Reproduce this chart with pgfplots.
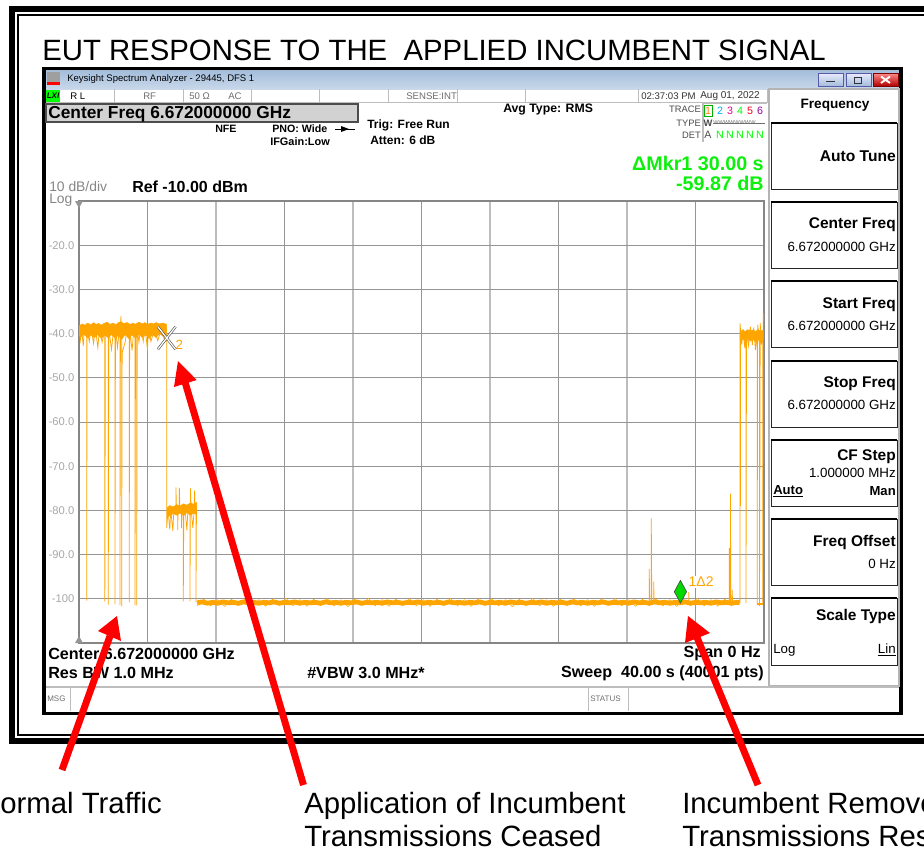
\documentclass[border=0pt]{standalone}
\usepackage{fontspec}
\setmainfont{Liberation Sans}
\usepackage{pgfplots}
\pgfplotsset{compat=1.18}
\definecolor{trace}{HTML}{FFA500}
\definecolor{gridd}{HTML}{959595}
\definecolor{gridl}{HTML}{BDBDBD}
\definecolor{mkgreen}{HTML}{0CF00C}
\definecolor{lab}{HTML}{A8A8A8}
\definecolor{dim}{HTML}{6E6E6E}
\definecolor{panel}{HTML}{B4B4B4}
\definecolor{bartop}{HTML}{A3BDDB}
\definecolor{barbot}{HTML}{C9D8EA}
\tikzset{
  px/.style={x=0.75pt,y=-0.75pt},
  L/.style={anchor=west},
  R/.style={anchor=east},
  C/.style={anchor=center},
  s/.style={font=\fontsize{#1}{#1}\selectfont},
  b/.style={font=\bfseries\fontsize{#1}{#1}\selectfont},
}
% text node at reference pixel position
\newcommand\T[4][]{\node[inner sep=0pt,#1] at (#2,#3) {#4};}
\newcommand\softkey[2]{\draw[black!85,line width=0.7pt] (771,#1) rectangle (897,#2);
  \draw[black,line width=1.1pt] (771,#1) -- (897,#1);}

\begin{document}
\begin{tikzpicture}
\begin{scope}[px]
\path[use as bounding box] (0,0) rectangle (924,851);
\end{scope}
\begin{scope}[px]
\clip (0,0) rectangle (924,851);

% document frame
\draw[black,line width=4.5pt] (12,9) rectangle (940,741);
\draw[black,line width=0.9pt] (18,15) rectangle (940,735);

\T[L,s=22]{42}{50}{EUT RESPONSE TO THE\ \ APPLIED INCUMBENT SIGNAL}

% analyser window
\fill[white] (44,68) rectangle (901,713);
\shade[top color=bartop,bottom color=barbot] (46,70) rectangle (899,89);
\draw[black,line width=2.6pt] (44,68.5) rectangle (901,713.5);
\fill[gray!75] (47,72) rectangle (60,84);
\fill[red] (47,82) rectangle (60,85);
\T[L,s=7.15]{67}{79}{Keysight Spectrum Analyzer - 29445, DFS 1}
\shade[draw=gray!70!blue,top color=blue!8!white,bottom color=bartop] (818,73) rectangle (843,86);
\shade[draw=gray!70!blue,top color=blue!8!white,bottom color=bartop] (846,73) rectangle (871,86);
\shade[draw=red!50!black,top color=red!45!white,bottom color=red!70!black] (873,73) rectangle (898,86);
\draw[gray!40!black,line width=0.8pt] (826,81.5) -- (835,81.5);
\draw[gray!40!black,line width=0.5pt] (854,77) rectangle (861,83);
\draw[white,line width=1.4pt] (881,76.5) -- (890,83) (881,83) -- (890,76.5);

% status row
\draw[gridl,line width=0.7pt] (46,102) -- (768,102);
\foreach \xx in {114,183,251,319,388,457,525,638,767} {\draw[gridl,line width=0.6pt] (\xx,89) -- (\xx,102);}
\fill[green] (46,90) rectangle (60,102);
\T[C,font=\bfseries\itshape\fontsize{6}{7}\selectfont]{53}{96}{LXI}
\T[L,s=7.2]{70}{96}{R L}
\T[L,s=7.2,text=dim]{143}{96}{RF}
\T[L,s=7.2,text=dim]{189}{96}{50 Ω}
\T[L,s=7.2,text=dim]{228}{96}{AC}
\T[L,s=7.2,text=dim]{406}{96}{SENSE:INT}
\T[L,s=7.2,text=black!80]{641}{96}{02:37:03 PM}
\T[L,s=7.5,text=black!80]{700}{96}{Aug 01, 2022}

% centre frequency box and settings
\draw[black!70,fill=gray!35,line width=0.8pt] (46,104) rectangle (358,122);
\T[L,b=13]{48}{114}{Center Freq 6.672000000 GHz}
\T[L,b=8]{215}{129}{NFE}
\T[L,b=8]{272}{129}{PNO: Wide}
\T[L,b=8.2]{270}{142}{IFGain:Low}
\draw[black,line width=0.5pt] (335,129) -- (355,129);
\fill[black] (341,126) -- (349,129) -- (341,132) -- cycle;
\T[L,b=9]{367}{125}{Trig: Free Run}
\T[L,b=9]{370}{140}{Atten: 6 dB}
\T[L,b=9.2]{503}{110}{Avg Type: RMS}

% trace table
\T[R,s=7,text=black!70]{701}{109}{TRACE}
\T[R,s=7,text=black!70]{701}{123}{TYPE}
\T[R,s=7,text=black!70]{701}{135}{DET}
\draw[gridl,line width=1pt] (703,103) -- (767,103) (703,103) -- (703,142);
\draw[green!70!black,line width=0.5pt] (704,105) rectangle (712,116);
\T[C,s=8,text=orange]{708}{111}{1}
\T[C,s=8,text=cyan]{720}{111}{2}
\T[C,s=8,text=magenta]{730}{111}{3}
\T[C,s=8,text=green]{740}{111}{4}
\T[C,s=8,text=red!90!magenta]{750}{111}{5}
\T[C,s=8,text=violet!80!magenta]{760}{111}{6}
\T[C,b=7,text=black!70]{708}{123}{W}
\T[L,s=4.2,text=dim]{713}{123}{WWWWWWWW}
\draw[dim,line width=0.3pt] (713,123) -- (765,123);
\T[C,s=8,text=black!70]{708}{135}{A}
\foreach \xx in {720,730,740,750,760} {\T[C,s=8,text=green]{\xx}{135}{N}}

% marker readout and reference
\T[R,b=14.8]{764}{163}{\textcolor{mkgreen}{ΔMkr1 30.00 s}}
\T[R,b=14.8]{764}{183}{\textcolor{mkgreen}{-59.87 dB}}
\T[L,s=10.4,text=lab!80!black]{49}{187}{10 dB/div}
\T[L,s=10.4,text=lab!80!black]{49}{200}{Log}
\T[L,b=12]{132}{187}{Ref -10.00 dBm}

% soft keys
\draw[panel,line width=1pt] (769,89) rectangle (899,686);
\T[C,b=10.2]{835}{105}{Frequency}
\softkey{123}{189}
\T[R,b=11.7]{896}{156}{Auto Tune}
\softkey{202}{268}
\T[R,b=11.6]{896}{225}{Center Freq}
\T[R,s=10]{896}{247}{6.672000000 GHz}
\softkey{281}{347}
\T[R,b=11.6]{896}{305}{Start Freq}
\T[R,s=10]{896}{326}{6.672000000 GHz}
\softkey{361}{427}
\T[R,b=11.6]{896}{384}{Stop Freq}
\T[R,s=10]{896}{405}{6.672000000 GHz}
\softkey{440}{506}
\T[R,b=11.6]{896}{457}{CF Step}
\T[R,s=10]{896}{473}{1.000000 MHz}
\T[L,b=9.8]{773}{491}{\underline{Auto}}
\T[R,b=9.8]{896}{491}{Man}
\softkey{519}{585}
\T[R,b=11.6]{896}{542}{Freq Offset}
\T[R,s=10]{896}{564}{0 Hz}
\softkey{598}{665}
\T[R,b=11.6]{896}{616}{Scale Type}
\T[L,s=10]{773}{650}{Log}
\T[R,s=10]{896}{650}{\underline{Lin}}

% bottom annotations of the analyser
\T[L,b=12.1]{48}{654}{Center 6.672000000 GHz}
\T[L,b=12.1]{48}{673}{Res BW 1.0 MHz}
\T[L,b=12.1]{307}{673}{\#VBW 3.0 MHz*}
\T[R,b=12.1]{761}{654}{Span 0 Hz}
\T[R,b=12.1]{764}{673}{Sweep\ \ 40.00 s (40001 pts)}
\draw[gridl,line width=1pt] (46,687) -- (899,687);
\draw[gridl,line width=0.6pt] (70,687) -- (70,711) (588,687) -- (588,711) (628,687) -- (628,711);
\T[L,s=6,text=dim]{47}{699}{MSG}
\T[L,s=6,text=dim]{590}{699}{STATUS}

% captions
\T[anchor=base east,s=22]{162}{813}{Normal Traffic}
\T[anchor=base west,s=22]{304}{813}{Application of Incumbent}
\T[anchor=base west,s=22]{304}{846}{Transmissions Ceased}
\T[anchor=base west,s=22]{682}{813}{Incumbent Removed}
\T[anchor=base west,s=22]{682}{846}{Transmissions Resumed}
\end{scope}

\begin{axis}[
    at={(59.25pt,-482.25pt)}, anchor=south west,
    width=513.75pt, height=331.5pt, scale only axis,
    xmin=0, xmax=40, ymin=-110, ymax=-10,
    xtick={8,16,24,32}, minor xtick={4,12,20,28,36},
    xticklabels={},
    ytick={-20,-30,-50,-60,-70,-80,-100},
    yticklabels={-20.0,-30.0,-50.0,-60.0,-70.0,-80.0,-100},
    extra y ticks={-40,-90},
    extra y tick labels={-40.0,-90.0},
    extra y tick style={grid style={draw=gridl,line width=1.1pt}},
    major tick length=0pt, minor tick length=0pt,
    grid=both,
    major grid style={draw=gridl,line width=1pt},
    minor grid style={draw=gridd,line width=0.7pt},
    ymajorgrids=true,
    y grid style={draw=gridd,line width=0.7pt},
    axis line style={draw=gridd!90!black,line width=1.9pt},
    tick label style={font=\fontsize{8.4}{9}\selectfont,text=lab},
]
% envelope of the -38 dBm traffic burst
\addplot[fill=trace,draw=trace,line width=0.3pt] coordinates {
 (0,-38.2)(0.2,-37.8)(0.35,-38.1)(0.5,-37.6)(0.7,-38.0)(0.85,-37.5)(1.0,-37.9)(1.15,-37.7)(1.3,-38.1)(1.5,-37.6)
 (1.65,-37.4)(1.8,-37.9)(2.0,-37.6)(2.15,-38.0)(2.3,-37.5)(2.45,-37.3)(2.6,-37.7)(2.8,-37.5)(3.0,-37.9)(3.15,-37.6)
 (3.3,-37.9)(3.5,-37.4)(3.7,-37.8)(3.85,-37.5)(4.0,-37.9)(4.2,-37.6)(4.35,-37.8)(4.5,-37.5)(4.7,-37.8)(4.9,-37.6)(5.12,-37.9)
 (5.12,-40.2)(4.9,-40.6)(4.7,-40.0)(4.5,-40.9)(4.3,-40.2)(4.1,-41.1)(3.9,-40.3)(3.7,-40.9)(3.5,-40.2)(3.3,-41.0)
 (3.1,-40.3)(2.9,-41.1)(2.7,-40.2)(2.5,-41.3)(2.3,-40.4)(2.1,-41.0)(1.9,-40.2)(1.7,-40.9)(1.5,-40.3)(1.3,-41.1)
 (1.1,-40.2)(0.9,-40.9)(0.7,-40.3)(0.5,-41.0)(0.3,-40.2)(0.1,-40.8)(0,-40.3)
} -- cycle;
% envelope of the -80 dBm segment
\addplot[fill=trace,draw=trace,line width=0.3pt] coordinates {
 (5.14,-79.4)(5.3,-78.9)(5.5,-79.2)(5.7,-78.7)(5.9,-79.0)(6.1,-78.5)(6.3,-78.8)(6.5,-78.3)(6.7,-78.6)(6.87,-78.2)
 (6.87,-81.0)(6.7,-80.6)(6.5,-81.1)(6.3,-80.5)(6.1,-81.2)(5.9,-80.6)(5.7,-81.1)(5.5,-80.7)(5.3,-81.3)(5.14,-80.8)
} -- cycle;
% right-hand burst envelope
\addplot[fill=trace,draw=trace,line width=0.3pt] coordinates {
 (38.6,-39.6)(38.75,-39.2)(38.9,-39.5)(39.05,-39.1)(39.2,-39.4)(39.35,-39.2)(39.5,-39.5)(39.65,-39.1)(39.8,-39.4)(39.97,-39.2)
 (39.97,-41.3)(39.8,-41.0)(39.65,-41.6)(39.5,-41.9)(39.35,-41.2)(39.2,-41.7)(39.05,-41.1)(38.9,-41.8)(38.75,-41.2)(38.6,-41.5)
} -- cycle;
% noise floor
\addplot[trace,line width=3.6pt,line join=round] coordinates {
 (6.9,-100.9)(7.2,-100.7)(7.5,-101.0)(7.8,-100.8)(8.1,-101.0)(8.4,-100.7)(8.7,-100.9)(9.0,-100.8)(9.3,-101.0)(9.6,-100.7)
 (9.9,-100.9)(10.2,-100.8)(10.5,-101.0)(10.8,-100.8)(11.1,-100.9)(11.4,-100.7)(11.7,-101.0)(12.0,-100.8)(12.3,-100.9)(12.6,-100.7)
 (12.9,-101.0)(13.2,-100.8)(13.5,-100.9)(13.8,-100.8)(14.1,-101.0)(14.4,-100.7)(14.7,-100.9)(15.0,-100.8)(15.3,-101.0)(15.6,-100.8)
 (15.9,-100.9)(16.2,-100.7)(16.5,-101.0)(16.8,-100.8)(17.1,-100.9)(17.4,-100.8)(17.7,-101.0)(18.0,-100.7)(18.3,-100.9)(18.6,-100.8)
 (18.9,-101.0)(19.2,-100.8)(19.5,-100.9)(19.8,-100.7)(20.1,-101.0)(20.4,-100.8)(20.7,-100.9)(21.0,-100.8)(21.3,-101.0)(21.6,-100.7)
 (21.9,-100.9)(22.2,-100.8)(22.5,-101.0)(22.8,-100.8)(23.1,-100.9)(23.4,-100.7)(23.7,-101.0)(24.0,-100.8)(24.3,-100.9)(24.6,-100.8)
 (24.9,-101.0)(25.2,-100.7)(25.5,-100.9)(25.8,-100.8)(26.1,-101.0)(26.4,-100.8)(26.7,-100.9)(27.0,-100.7)(27.3,-101.0)(27.6,-100.8)
 (27.9,-100.9)(28.2,-100.8)(28.5,-101.0)(28.8,-100.7)(29.1,-100.9)(29.4,-100.8)(29.7,-101.0)(30.0,-100.8)(30.3,-100.9)(30.6,-100.7)
 (30.9,-101.0)(31.2,-100.8)(31.5,-100.9)(31.8,-100.8)(32.1,-101.0)(32.4,-100.7)(32.7,-100.9)(33.0,-100.8)(33.3,-101.0)(33.6,-100.7)
 (33.9,-100.9)(34.2,-100.8)(34.5,-101.0)(34.8,-100.8)(35.1,-100.9)(35.4,-100.7)(35.7,-101.0)(36.0,-100.8)(36.3,-100.9)(36.6,-100.8)
 (36.9,-101.0)(37.2,-100.7)(37.5,-100.9)(37.8,-100.8)(38.1,-101.0)(38.4,-100.8)(38.58,-100.9)
};
% fine jitter along the floor
\addplot[trace,line width=0.4pt] coordinates {
 (6.9,-101.6)(7.3,-100.1)(7.7,-101.6)(8.1,-100.2)(8.5,-101.7)(8.9,-100.1)(9.3,-101.5)(9.7,-100.0)(10.1,-101.6)(10.5,-100.2)
 (10.9,-101.7)(11.3,-100.1)(11.7,-101.5)(12.1,-99.9)(12.5,-101.6)(12.9,-100.2)(13.3,-101.7)(13.7,-100.1)(14.1,-101.5)(14.5,-100.0)
 (14.9,-101.6)(15.3,-100.2)(15.7,-101.8)(16.1,-100.1)(16.5,-101.5)(16.9,-99.9)(17.3,-101.6)(17.7,-100.2)(18.1,-101.7)(18.5,-100.1)
 (18.9,-101.5)(19.3,-100.0)(19.7,-101.6)(20.1,-100.2)(20.5,-101.7)(20.9,-100.1)(21.3,-101.5)(21.7,-99.9)(22.1,-101.6)(22.5,-100.2)
 (22.9,-101.7)(23.3,-100.1)(23.7,-101.5)(24.1,-100.0)(24.5,-101.6)(24.9,-100.2)(25.3,-101.8)(25.7,-100.1)(26.1,-101.5)(26.5,-99.9)
 (26.9,-101.6)(27.3,-100.2)(27.7,-101.7)(28.1,-100.1)(28.5,-101.5)(28.9,-100.0)(29.3,-101.6)(29.7,-100.2)(30.1,-101.7)(30.5,-100.1)
 (30.9,-101.5)(31.3,-99.9)(31.7,-101.6)(32.1,-100.2)(32.5,-101.7)(32.9,-100.1)(33.3,-101.5)(33.7,-100.0)(34.1,-101.6)(34.5,-100.2)
 (34.9,-101.7)(35.3,-100.1)(35.7,-101.5)(36.1,-99.9)(36.5,-101.6)(36.9,-100.2)(37.3,-101.7)(37.7,-100.1)(38.1,-101.5)(38.58,-100.2)
};
% fine trace: jitter, dips and isolated spikes, first part
\addplot[trace,line width=0.55pt] coordinates {
 (0,-39)(0.08,-41.5)(0.14,-38.5)(0.25,-42.8)(0.32,-38.5)(0.45,-40)(0.45,-100.4)(0.47,-39)(0.6,-41.8)(0.7,-38.6)(0.85,-42.2)(0.95,-38.5)
 (1.1,-43.2)(1.2,-38.6)(1.35,-42)(1.51,-39)(1.51,-100.6)(1.54,-39)(1.71,-39)(1.71,-101.3)(1.74,-39)(1.9,-43.6)(2.02,-39)(2.1,-39)
 (2.1,-101.2)(2.13,-39)(2.25,-43.2)(2.35,-39)(2.39,-39)(2.39,-101.4)(2.42,-39)(2.45,-36.0)(2.47,-39)(2.49,-39)(2.49,-101.7)(2.52,-44.4)
 (2.7,-41.8)(2.8,-39)(2.93,-39)(2.93,-100.8)(2.96,-39)(3.1,-43.8)(3.2,-39)(3.27,-39)(3.27,-101.5)(3.3,-39)(3.37,-39)(3.37,-101.5)(3.4,-39)
 (3.5,-42)(3.6,-38.5)(3.75,-41.8)(3.85,-38.5)(4.0,-43.7)(4.05,-38.5)(4.2,-41.8)(4.4,-39)(4.6,-41.6)(4.8,-39)(5.0,-41.5)(5.12,-39)
};
\addplot[trace,line width=0.55pt] coordinates {
 (5.12,-40)(5.12,-84)(5.2,-80)(5.3,-84.3)(5.36,-80)(5.48,-84.6)(5.54,-80)(5.66,-79)(5.66,-74.8)(5.69,-79)(5.76,-80)(5.76,-84.4)(5.79,-80)(5.86,-79)(5.86,-74.9)(5.89,-79)
 (5.98,-80)(5.98,-84)(6.01,-80)(6.09,-80)(6.09,-100.6)(6.12,-80)(6.2,-80)(6.3,-84.5)(6.36,-80)(6.48,-80)(6.48,-100.6)(6.51,-75.0)(6.55,-80)(6.65,-84)(6.72,-80)(6.75,-75.5)(6.78,-80)(6.83,-80)(6.83,-100.8)(6.86,-79)
};
% spikes off the noise floor near 33 s and 38 s
\addplot[trace,line width=0.5pt] coordinates {
 (33.0,-100.8)(33.3,-100.8)(33.3,-93.2)(33.33,-100.8)(33.42,-100.8)(33.42,-81.8)(33.45,-100.8)(33.56,-100.8)(33.56,-96.1)(33.59,-100.8)(34.8,-100.8)(35.6,-100.8)(35.6,-98.5)(35.63,-100.8)
};
\addplot[trace,line width=0.9pt] coordinates {(37.98,-100.8)(37.98,-88.5)(38.0,-100.8)};
\addplot[trace,line width=0.5pt] coordinates {(38.04,-100.8)(38.04,-76.2)(38.07,-100.8)(38.14,-100.8)(38.14,-98)(38.17,-100.8)};
% right-hand burst
\addplot[trace,line width=1.1pt] coordinates {(38.64,-79)(38.64,-40)};
\addplot[trace,line width=0.55pt] coordinates {
 (38.6,-100.9)(38.6,-37.7)(38.7,-42.5)(38.78,-39)(38.88,-43.3)(38.95,-40)(38.95,-101.0)(38.98,-40)(39.1,-42.8)(39.2,-38.4)(39.32,-42.6)
 (39.4,-38.6)(39.5,-43.7)(39.6,-40)(39.6,-101.5)(39.63,-38.0)(39.7,-40)(39.74,-40)(39.74,-101.6)(39.78,-37.6)(39.85,-42.5)(39.92,-40)(39.92,-101.4)(39.95,-35.4)
};
\addplot[trace,line width=1.5pt] coordinates {(39.6,-101.2)(39.97,-101.2)};
% delta markers
\addplot[only marks,mark=x,mark size=12pt,mark options={xscale=0.78,draw=black!65,line width=1.9pt}] coordinates {(5.12,-41)};
\addplot[only marks,mark=x,mark size=12pt,mark options={xscale=0.78,draw=white,line width=0.9pt}] coordinates {(5.12,-41)}
  node[anchor=west,inner sep=0pt,xshift=6.5pt,yshift=-5pt,text=trace,font=\fontsize{10}{10}\selectfont] {2};
\addplot[only marks,mark=diamond*,mark size=8.5pt,mark options={xscale=0.72,fill=green!85!black,draw=black!70,line width=0.5pt}] coordinates {(35.12,-98.4)};
\addplot[draw=none] coordinates {(35.12,-96.2)}
  node[anchor=west,inner sep=1pt,xshift=5pt,fill=white,text=trace,font=\fontsize{10.5}{10.5}\selectfont] {1Δ2};
\end{axis}

% red arrows, corner glyphs
\begin{scope}[px]
\clip (0,0) rectangle (924,851);
\fill[gridd] (75,201) -- (83,201) -- (79,208) -- cycle;
\fill[gridd] (75,643) -- (83,643) -- (79,636) -- cycle;
\draw[red,line width=5.2pt] (62,770) -- (110,636);
\fill[red] (117,616) -- (121,641) -- (98,631) -- cycle;
\draw[red,line width=5.2pt] (303.5,785) -- (185,382);
\fill[red] (178,361) -- (196.7,380) -- (174,387) -- cycle;
\draw[red,line width=5.2pt] (758,785) -- (696,635);
\fill[red] (688,616) -- (710,633) -- (685,643) -- cycle;
\end{scope}
\end{tikzpicture}
\end{document}
